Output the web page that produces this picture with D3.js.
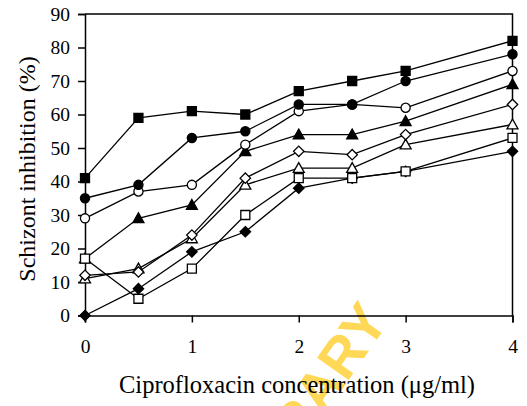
<!DOCTYPE html>
<html>
<head>
<meta charset="utf-8">
<script src="https://cdn.jsdelivr.net/npm/d3@7"></script>
<style>
    html, body { margin: 0; padding: 0; background: #fff; }
    svg { display: block; }
</style>
</head>
<body>
<div id="chart"></div>
<script>
// Concentrations (x) shared by every series
const concentrations = [0, 0.5, 1, 1.5, 2, 2.5, 3, 4];

// Schizont inhibition (%) per series
const filledSquare   = [41, 59, 61, 60, 67, 70, 73, 82];
const filledCircle   = [35, 39, 53, 55, 63, 63, 70, 78];
const openCircle     = [29, 37, 39, 51, 61, 63, 62, 73];
const filledTriangle = [17, 29, 33, 49, 54, 54, 58, 69];
const openDiamond    = [12, 13, 24, 41, 49, 48, 54, 63];
const openTriangle   = [11, 14, 23, 39, 44, 44, 51, 57];
const openSquare     = [17, 5, 14, 30, 41, 41, 43, 53];
const filledDiamond  = [0, 8, 19, 25, 38, 41, 43, 49];

// Axis ticks and titles
const xTicks = [0, 1, 2, 3, 4];
const yTicks = [0, 10, 20, 30, 40, 50, 60, 70, 80, 90];
const xTitle = 'Ciprofloxacin concentration (\u03bcg/ml)';
const yTitle = 'Schizont inhibition (%)';
const watermark = 'LIBRARY';

// Series in drawing order (later ones sit on top)
const series = [
    { values: filledTriangle, shape: 'triangle', filled: true },
    { values: openTriangle,   shape: 'triangle', filled: false },
    { values: filledDiamond,  shape: 'diamond',  filled: true },
    { values: openDiamond,    shape: 'diamond',  filled: false },
    { values: openCircle,     shape: 'circle',   filled: false },
    { values: filledCircle,   shape: 'circle',   filled: true },
    { values: openSquare,     shape: 'square',   filled: false },
    { values: filledSquare,   shape: 'square',   filled: true }
];

const W = 527, H = 406;
const plot = { left: 85, right: 512.5, top: 14, bottom: 315.5 };
const serif = "'Liberation Serif', 'Times New Roman', serif";

const svg = d3.select('#chart').append('svg')
    .attr('width', W)
    .attr('height', H);

const x = d3.scaleLinear().domain([0, 4]).range([plot.left, plot.right]);
const y = d3.scaleLinear().domain([0, 90]).range([plot.bottom, plot.top]);

// Watermark sits behind everything
svg.append('text')
    .attr('transform', 'translate(390,321) rotate(-55)')
    .attr('text-anchor', 'end')
    .attr('font-family', "'Liberation Sans', Arial, sans-serif")
    .attr('font-weight', 'bold')
    .attr('font-size', 56)
    .attr('fill', '#ffd23c')
    .attr('opacity', 0.85)
    .text(watermark);

// Frame: top and right edges
svg.append('path')
    .attr('d', `M${plot.left},${plot.top}H${plot.right}V${plot.bottom}`)
    .attr('fill', 'none')
    .attr('stroke', '#000')
    .attr('stroke-width', 1.5);

// Axes
const xAxis = svg.append('g')
    .attr('transform', `translate(0,${plot.bottom})`)
    .call(d3.axisBottom(x).tickValues(xTicks).tickFormat(d3.format('d')).tickSize(7).tickPadding(17));

const yAxis = svg.append('g')
    .attr('transform', `translate(${plot.left},0)`)
    .call(d3.axisLeft(y).tickValues(yTicks).tickFormat(d3.format('d')).tickSize(7).tickPadding(8));

[xAxis, yAxis].forEach(g => {
    g.attr('font-family', serif).attr('font-size', 19.5);
    g.select('.domain').attr('stroke-width', 1.5);
    g.selectAll('.tick line').attr('stroke-width', 1.5);
    g.selectAll('.tick text')
        .attr('font-family', serif)
        .attr('font-size', 19.5)
        .attr('fill', '#000');
});

// Marker shapes
function markerPath(shape) {
    if (shape === 'square') return 'M-4.5,-4.5H4.5V4.5H-4.5Z';
    if (shape === 'diamond') return 'M0,-5.2L5.2,0L0,5.2L-5.2,0Z';
    if (shape === 'triangle') return 'M0,-5.5L5.5,4.3H-5.5Z';
    return d3.symbol(d3.symbolCircle, 66)();
}

// Lines first, then markers over them
const line = d3.line()
    .x((d, i) => x(concentrations[i]))
    .y(d => y(d));

series.forEach(s => {
    svg.append('path')
        .datum(s.values)
        .attr('fill', 'none')
        .attr('stroke', '#000')
        .attr('stroke-width', 1.3)
        .attr('d', line);
});

series.forEach(s => {
    svg.append('g')
        .selectAll('path')
        .data(s.values)
        .enter()
        .append('path')
        .attr('transform', (d, i) => `translate(${x(concentrations[i])},${y(d)})`)
        .attr('d', markerPath(s.shape))
        .attr('fill', s.filled ? '#000' : '#fff')
        .attr('stroke', '#000')
        .attr('stroke-width', 1.3);
});

// Axis titles
svg.append('text')
    .attr('x', 297)
    .attr('y', 393)
    .attr('text-anchor', 'middle')
    .attr('font-family', serif)
    .attr('font-size', 24.5)
    .text(xTitle);

svg.append('text')
    .attr('transform', 'translate(35,169) rotate(-90)')
    .attr('text-anchor', 'middle')
    .attr('font-family', serif)
    .attr('font-size', 24)
    .text(yTitle);
</script>
</body>
</html>
